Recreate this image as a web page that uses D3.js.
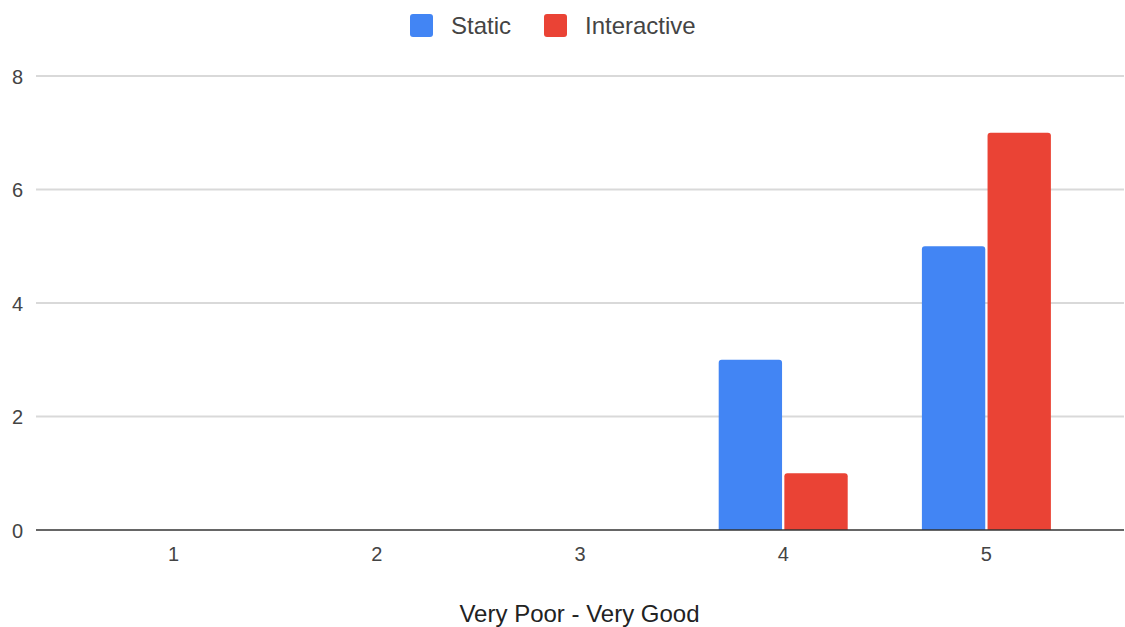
<!DOCTYPE html>
<html>
<head>
<meta charset="utf-8">
<script src="https://cdn.jsdelivr.net/npm/d3@7"></script>
<style>
  html, body { margin: 0; padding: 0; background: #fff; }
  svg { display: block; font-family: "Liberation Sans", Arial, sans-serif; }
</style>
</head>
<body>
<svg id="chart" width="1125" height="627"></svg>
<script>
const categories = ["1", "2", "3", "4", "5"];
const seriesNames = ["Static", "Interactive"];
const staticValues = [0, 0, 0, 3, 5];
const interactiveValues = [0, 0, 0, 1, 7];
const yTicks = [0, 2, 4, 6, 8];
const xAxisTitle = "Very Poor - Very Good";
const colors = ["#4285F4", "#EA4335"];

const svg = d3.select("#chart");
const plotLeft = 36, plotRight = 1124;
const yTop = 76, yBottom = 530;

const x = d3.scaleBand().domain(categories).range([72, 1088]).paddingInner(0).paddingOuter(0);
const y = d3.scaleLinear().domain([0, 8]).range([yBottom, yTop]);
const groupW = 129;
const xInner = d3.scaleBand().domain(seriesNames).range([0, groupW]).paddingInner(0.035);

// gridlines
svg.append("g").selectAll("line").data(yTicks.filter(d => d !== 0)).join("line")
  .attr("x1", plotLeft).attr("x2", plotRight)
  .attr("y1", d => y(d)).attr("y2", d => y(d))
  .attr("stroke", "#d9d9d9").attr("stroke-width", 2);

// y axis labels
const yAxis = d3.axisLeft(y).tickValues(yTicks).tickSize(0).tickPadding(0);
const yg = svg.append("g").attr("transform", `translate(23,0)`).call(yAxis);
yg.select(".domain").remove();
yg.selectAll("text").attr("font-size", 20).attr("fill", "#444").attr("dy", "0.35em");

// bars
const rows = categories.map((c, i) => ({ cat: c, vals: [staticValues[i], interactiveValues[i]] }));
const groups = svg.append("g").selectAll("g").data(rows).join("g")
  .attr("transform", d => `translate(${x(d.cat) + x.bandwidth() / 2 - groupW / 2},0)`);
groups.selectAll("path").data(d => d.vals.map((v, j) => ({ v, s: seriesNames[j], j }))
  .filter(e => e.v > 0)).join("path")
  .attr("fill", e => colors[e.j])
  .attr("d", e => {
    const x0 = xInner(e.s), w = xInner.bandwidth();
    const top = y(e.v), bot = y(0), r = 3;
    return `M${x0},${bot} L${x0},${top + r} Q${x0},${top} ${x0 + r},${top} L${x0 + w - r},${top} Q${x0 + w},${top} ${x0 + w},${top + r} L${x0 + w},${bot} Z`;
  });

// baseline
svg.append("line").attr("x1", plotLeft).attr("x2", plotRight)
  .attr("y1", y(0)).attr("y2", y(0)).attr("stroke", "#333").attr("stroke-width", 1.5);

// x axis labels
const xAxis = d3.axisBottom(x).tickSize(0).tickPadding(0);
const xg = svg.append("g").attr("transform", `translate(0,${yBottom + 31})`).call(xAxis);
xg.select(".domain").remove();
xg.selectAll("text").attr("font-size", 20).attr("fill", "#444").attr("dy", "0");

// x axis title
svg.append("text").attr("x", 579.5).attr("y", 622).attr("text-anchor", "middle")
  .attr("font-size", 24).attr("fill", "#222").text(xAxisTitle);

// legend
const legendPos = [{ sx: 410, tx: 451 }, { sx: 544, tx: 585 }];
const lg = svg.append("g").selectAll("g").data(seriesNames).join("g");
lg.append("rect").attr("x", (d, i) => legendPos[i].sx).attr("y", 14).attr("width", 23).attr("height", 23)
  .attr("rx", 3).attr("fill", (d, i) => colors[i]);
lg.append("text").attr("x", (d, i) => legendPos[i].tx).attr("y", 34)
  .attr("font-size", 24).attr("fill", "#444").text(d => d);
</script>
</body>
</html>
